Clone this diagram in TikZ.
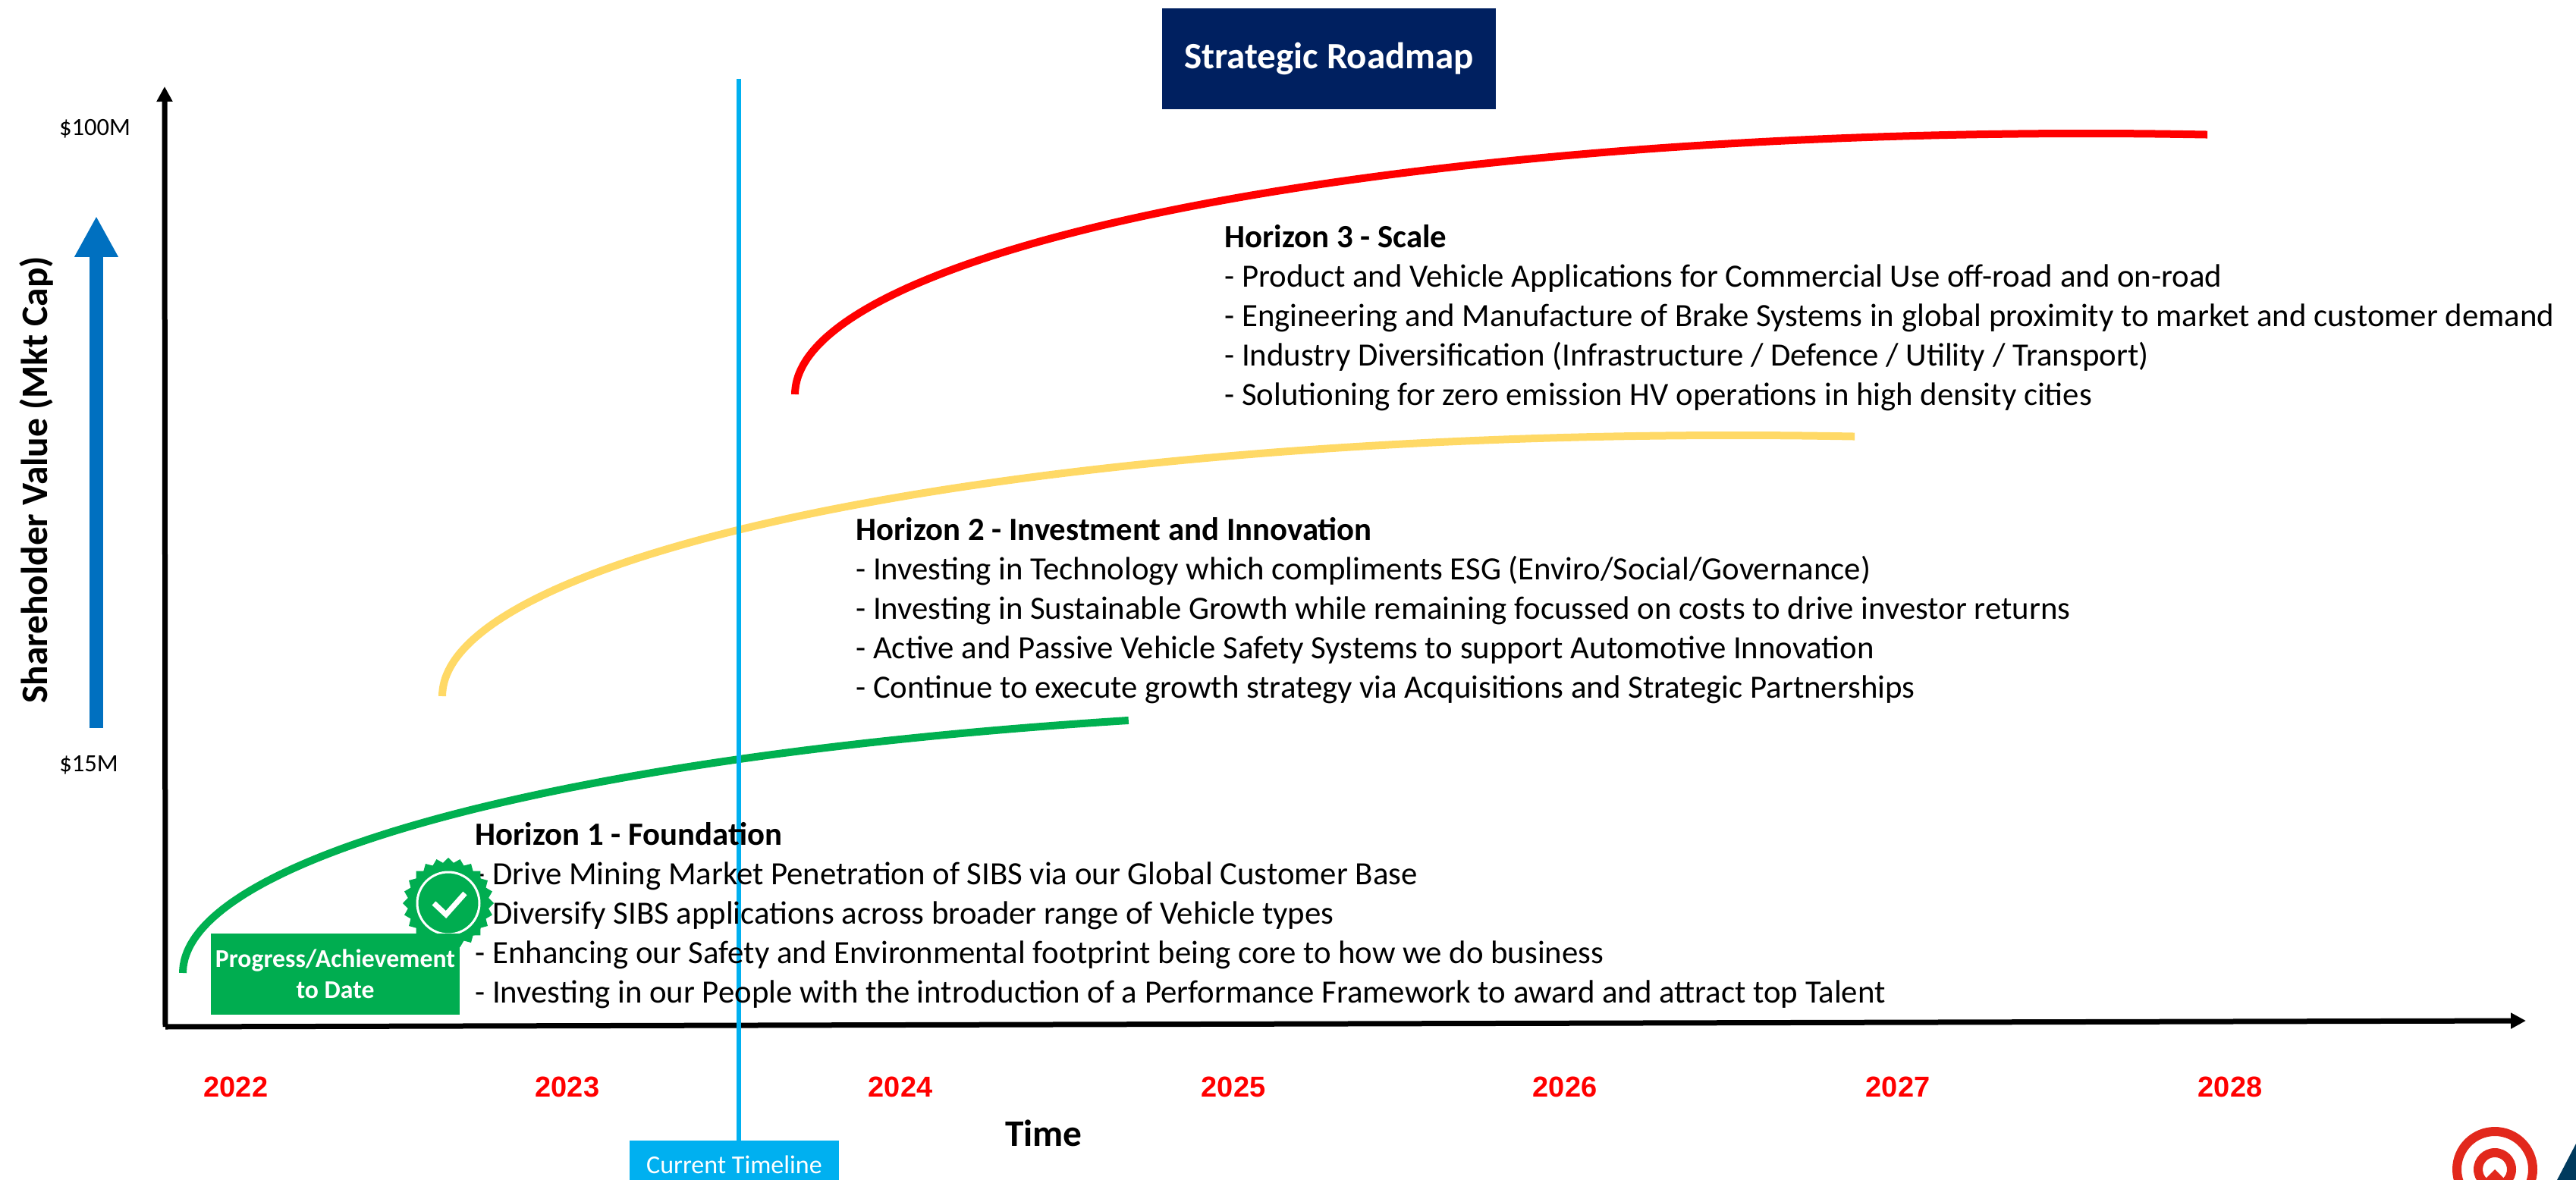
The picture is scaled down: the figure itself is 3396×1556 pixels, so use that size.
\documentclass[tikz,border=0pt]{standalone}
\usepackage{fontspec}
\setmainfont{Carlito}
\newfontfamily\yearfont{Liberation Sans}
\usetikzlibrary{arrows.meta,shapes.geometric,positioning}
\definecolor{navy}{HTML}{002060}
\definecolor{tealblue}{HTML}{00B0F0}
\definecolor{axisblue}{HTML}{0070C0}
\definecolor{badgegreen}{HTML}{00AD50}
\definecolor{hgreen}{HTML}{00B050}
\definecolor{hyellow}{HTML}{FFD966}
\definecolor{logored}{HTML}{E2281C}
\definecolor{logoblue}{HTML}{003A5D}
\tikzset{
  x=0.5pt,y=-0.5pt,
  axisline/.style={draw=black,line width=3.5pt,-{Triangle[length=10pt,width=10pt]}},
  curveline/.style={line width=5pt,line cap=butt},
  body/.style={anchor=north west,align=left,inner sep=0pt,font=\fontsize{21.4}{26}\selectfont,text=black},
  yearlabel/.style={font=\yearfont\bfseries\fontsize{19}{22}\selectfont,text=red,inner sep=0pt},
  money/.style={font=\fontsize{16.3}{20}\selectfont,inner sep=0pt},
  axistitle/.style={font=\bfseries\fontsize{24.7}{28}\selectfont,inner sep=0pt},
}
\begin{document}
\begin{tikzpicture}
\useasboundingbox (0,0) rectangle (3396,1556);
\clip (0,0) rectangle (3396,1556);
% axes
\coordinate (origin) at (218,1354);
\coordinate (ytop) at (217,114);
\coordinate (xend) at (3330,1346);
\draw[axisline] (origin) -- (ytop);
\draw[axisline] (origin) -- (xend);
% title
\node[fill=navy,text=white,minimum width=220pt,minimum height=66.5pt,inner sep=0pt,font=\bfseries\fontsize{24.5}{28}\selectfont] (title) at (1752,77.5) {\raisebox{-2.5pt}{Strategic Roadmap}};
% value arrow
\coordinate (vb) at (127,960);
\coordinate (vt) at (127,285);
\draw[axisblue,line width=9pt,-{Triangle[length=27pt,width=27pt]}] (vb) -- (vt);
\node[axistitle,rotate=90] (shv) at (48,633) {Shareholder Value (Mkt Cap)};
\node[money] (m100) at (125,170) {\$100M};
\node[money] (m15) at (117,1009) {\$15M};
% years
\foreach \yy/\xx in {2022/311,2023/748,2024/1187,2025/1626,2026/2063,2027/2502,2028/2940}
  \node[yearlabel] (y\yy) at (\xx,1433) {\yy};
\node[axistitle] (timel) at (1376,1494) {Time};
% curves (elliptical arcs)
\draw[red,curveline] plot[domain=0:95.4,samples=120] ({2750-1702*cos(\x)},{520-344*sin(\x)});
\draw[hyellow,curveline] plot[domain=0:95.4,samples=120] ({2285-1702*cos(\x)},{918-344*sin(\x)});
\draw[hgreen,curveline] plot[domain=0:72.1,samples=120] ({2041-1800*cos(\x)},{1283-350*sin(\x)});
% timeline
\coordinate (tltop) at (974,104);
\node[fill=tealblue,text=white,minimum width=138pt,minimum height=30pt,inner sep=0pt,font=\fontsize{17}{20}\selectfont,text depth=0pt] (tlbox) at (968,1534) {\raisebox{-2pt}{Current Timeline}};
\draw[tealblue,line width=3.4pt] (tltop) -- (tltop|-tlbox.north);
% horizon texts
\node[body] (h3) at (1614,296) {\textbf{Horizon 3 - Scale}\\
- Product and Vehicle Applications for Commercial Use off-road and on-road\\
- Engineering and Manufacture of Brake Systems in global proximity to market and customer demand\\
- Industry Diversification (Infrastructure / Defence / Utility / Transport)\\
- Solutioning for zero emission HV operations in high density cities};
\node[body] (h2) at (1128,682) {\textbf{Horizon 2 - Investment and Innovation}\\
- Investing in Technology which compliments ESG (Enviro/Social/Governance)\\
- Investing in Sustainable Growth while remaining focussed on costs to drive investor returns\\
- Active and Passive Vehicle Safety Systems to support Automotive Innovation\\
- Continue to execute growth strategy via Acquisitions and Strategic Partnerships};
\node[body] (h1) at (626,1084) {\textbf{Horizon 1 - Foundation}\\
- Drive Mining Market Penetration of SIBS via our Global Customer Base\\
- Diversify SIBS applications across broader range of Vehicle types\\
- Enhancing our Safety and Environmental footprint being core to how we do business\\
- Investing in our People with the introduction of a Performance Framework to award and attract top Talent};
% badge
\node[star,star points=24,star point ratio=1.12,minimum size=60pt,inner sep=0pt,fill=badgegreen] (badge) at (591,1191) {};
\draw[white,line width=1.5pt] (badge.center) circle[radius=20.5pt];
\coordinate (c1) at (572,1191);
\coordinate (c2) at (588,1206);
\coordinate (c3) at (613,1178);
\draw[white,line width=3.5pt] (c1) -- (c2) -- (c3);
\node[fill=badgegreen,text=white,minimum width=164pt,minimum height=53.5pt,inner sep=0pt,align=center,font=\bfseries\fontsize{16.85}{20.5}\selectfont] (prog) at (442,1284.5) {\raisebox{-1pt}{Progress/Achievement}\\\raisebox{-1pt}{to Date}};
% logo
\fill[logored,even odd rule] (3289,1542) circle[radius=28pt] circle[radius=22pt];
\fill[logored,even odd rule] (3289,1542) circle[radius=14pt] circle[radius=8pt];
\fill[logored] (3289,1542) -- (3309,1562) -- (3269,1562) -- cycle;
\fill[logoblue] (3371,1556) -- (3396,1508) -- (3396,1556) -- cycle;
\end{tikzpicture}
\end{document}
